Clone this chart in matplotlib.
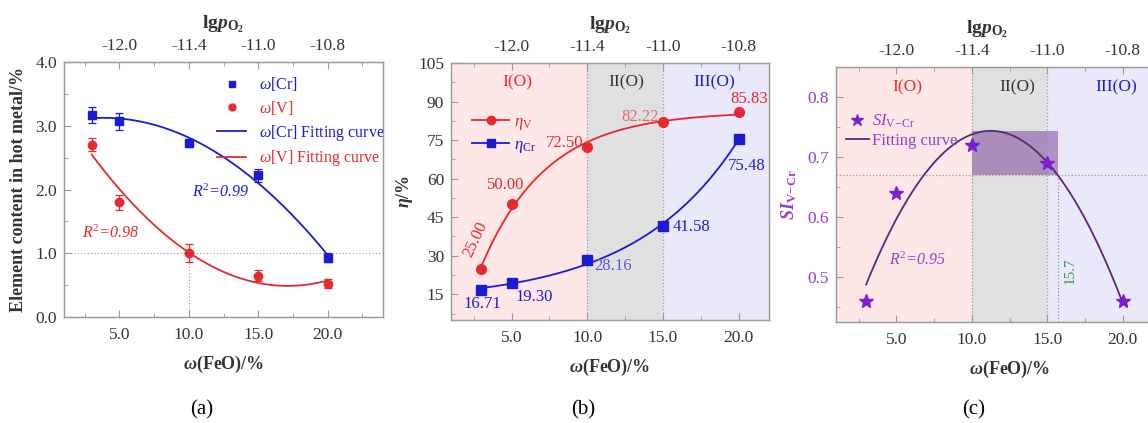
import numpy as np
import matplotlib
matplotlib.use('Agg')
import matplotlib.pyplot as plt
from matplotlib.ticker import MultipleLocator, FixedLocator, FormatStrFormatter
from matplotlib.lines import Line2D
from matplotlib.patches import Rectangle

plt.rcParams['font.family'] = ['Liberation Serif', 'DejaVu Serif']
plt.rcParams['mathtext.fontset'] = 'custom'
plt.rcParams['mathtext.rm'] = 'Liberation Serif'
plt.rcParams['mathtext.it'] = 'Liberation Serif:italic'
plt.rcParams['mathtext.bf'] = 'Liberation Serif:bold'
plt.rcParams['mathtext.bfit'] = 'Liberation Serif:bold:italic'

# ---------------- data ----------------
feo = [3, 5, 10, 15, 20]
top_ticks_x = [5, 10, 15, 20]
top_tick_labels = ['-12.0', '-11.4', '-11.0', '-10.8']

cr = [3.17, 3.07, 2.73, 2.22, 0.93]
cr_err = [0.13, 0.13, 0.06, 0.10, 0.07]
v = [2.70, 1.80, 1.00, 0.65, 0.52]
v_err = [0.10, 0.12, 0.14, 0.09, 0.07]

eta_v = [25.00, 50.00, 72.50, 82.22, 85.83]
eta_cr = [16.71, 19.30, 28.16, 41.58, 75.48]
eta_v_labels = ['25.00', '50.00', '72.50', '82.22', '85.83']
eta_cr_labels = ['16.71', '19.30', '28.16', '41.58', '75.48']

si = [0.46, 0.64, 0.72, 0.69, 0.46]
region_edges = [10, 15]
region_names = ['I(O)', 'II(O)', 'III(O)']
si_threshold = 0.67
feo_threshold = 15.7

RED = '#e8282e'
BLUE = '#1b1bd6'
PURPLE = '#7b1fd0'
PURPLE_LINE = '#5a2a78'
PURPLE_TXT = '#9a3fc8'
GRAY_TXT = '#333333'
SPINE = '#9a9a9a'
PINK_BG = '#fde7e7'
GRAY_BG = '#e0e0e0'
LAV_BG = '#e9e9fb'

W, H = 1148, 423
fig = plt.figure(figsize=(W / 100, H / 100), dpi=100)


def ax_at(l, r, t, b):
    return fig.add_axes([l / W, 1 - b / H, (r - l) / W, (b - t) / H])


def style(ax, xlim, ycolor=GRAY_TXT, toplabel_x=0.5):
    ax.set_xlim(*xlim)
    for s in ax.spines.values():
        s.set_color(SPINE)
        s.set_linewidth(1.0)
    ax.xaxis.set_major_locator(FixedLocator([5, 10, 15, 20]))
    ax.xaxis.set_minor_locator(FixedLocator([2.5, 7.5, 12.5, 17.5, 22.5]))
    ax.set_xticklabels(['5.0', '10.0', '15.0', '20.0'])
    ax.tick_params(which='both', direction='in', color=SPINE, labelsize=12.5,
                   labelcolor=GRAY_TXT, top=False, right=False)
    ax.tick_params(axis='x', pad=7)
    ax.tick_params(axis='y', labelcolor=ycolor, pad=5)
    ax.tick_params(which='major', length=5)
    ax.tick_params(which='minor', length=3)
    ax.set_xlabel(r'$\mathbfit{\omega}$(FeO)/%', fontsize=13, fontweight='bold',
                  color=GRAY_TXT, labelpad=8)
    top = ax.twiny()
    top.set_xlim(*xlim)
    top.xaxis.set_major_locator(FixedLocator(top_ticks_x))
    top.xaxis.set_minor_locator(FixedLocator([2.5, 7.5, 12.5, 17.5, 22.5]))
    top.set_xticklabels(top_tick_labels)
    top.tick_params(which='both', direction='in', color=SPINE, labelsize=12.5,
                    labelcolor=GRAY_TXT, pad=6)
    top.tick_params(which='major', length=5)
    top.tick_params(which='minor', length=3)
    for s in top.spines.values():
        s.set_color(SPINE)
    top.set_xlabel(r'lg$\mathbfit{p}_{\mathbf{O}_{\mathbf{2}}}$', fontsize=14,
                   fontweight='bold', color=GRAY_TXT, labelpad=4)
    top.xaxis.set_label_coords(toplabel_x, 1.13)
    return top


xs = np.linspace(feo[0], feo[-1], 200)

# ---------------- panel (a) ----------------
axa = ax_at(64, 383, 62, 317)
axa.set_ylim(0, 4.0)
axa.yaxis.set_major_locator(MultipleLocator(1.0))
axa.yaxis.set_minor_locator(MultipleLocator(0.5))
axa.yaxis.set_major_formatter(FormatStrFormatter('%.1f'))
style(axa, (1, 24))
axa.set_ylabel('Element content in hot metal/%', fontsize=13, fontweight='bold',
               color=GRAY_TXT, labelpad=6)

axa.axhline(1.0, color='#a0a0a0', ls=':', lw=0.9)
axa.plot([10, 10], [0, 1.0], color='#a0a0a0', ls=':', lw=0.9)

pc = np.polyfit(feo, cr, 2)
pv = np.polyfit(feo, v, 2)
axa.plot(xs, np.polyval(pc, xs), color=BLUE, lw=1.3)
axa.plot(xs, np.polyval(pv, xs), color=RED, lw=1.3)
axa.errorbar(feo, cr, yerr=cr_err, fmt='s', color=BLUE, ms=6, capsize=3,
             elinewidth=0.9, capthick=0.9)
axa.errorbar(feo, v, yerr=v_err, fmt='o', color=RED, ms=6, capsize=3,
             elinewidth=0.9, capthick=0.9)
axa.text(12.3, 1.95, r'$R^2$=0.99', color=BLUE, fontsize=11.5, ha='center',
         va='center', style='italic')
axa.text(4.4, 1.31, r'$R^2$=0.98', color=RED, fontsize=11.5, ha='center',
         va='center', style='italic')
ha = [Line2D([], [], ls='none', marker='s', color=BLUE, ms=5),
      Line2D([], [], ls='none', marker='o', color=RED, ms=5),
      Line2D([], [], color=BLUE, lw=1.3),
      Line2D([], [], color=RED, lw=1.3)]
la = [r'$\omega$[Cr]', r'$\omega$[V]', r'$\omega$[Cr] Fitting curve',
      r'$\omega$[V] Fitting curve']
lg = axa.legend(ha, la, loc='upper left', bbox_to_anchor=(0.45, 0.985),
                frameon=False, fontsize=11.5, handlelength=1.8, labelspacing=0.35,
                handletextpad=0.8, borderaxespad=0.2)
for t, c in zip(lg.get_texts(), [BLUE, RED, BLUE, RED]):
    t.set_color(c)

# ---------------- panel (b) ----------------
axb = ax_at(451, 769, 63, 320)
axb.set_ylim(5, 105)
axb.yaxis.set_major_locator(FixedLocator([15, 30, 45, 60, 75, 90, 105]))
axb.yaxis.set_minor_locator(FixedLocator([7.5, 22.5, 37.5, 52.5, 67.5, 82.5, 97.5]))
style(axb, (1, 22))
axb.set_ylabel(r'$\mathbfit{\eta}$/%', fontsize=13, fontweight='bold',
               color=GRAY_TXT, labelpad=2)
axb.axvspan(1, region_edges[0], color=PINK_BG, lw=0, zorder=0)
axb.axvspan(region_edges[0], region_edges[1], color=GRAY_BG, lw=0, zorder=0)
axb.axvspan(region_edges[1], 22, color=LAV_BG, lw=0, zorder=0)
for e in region_edges:
    axb.axvline(e, color='#9a9a9a', ls=':', lw=0.9)
for name, xc, c in zip(region_names, [5.4, 12.6, 18.4], [RED, '#333333', BLUE]):
    axb.text(xc, 97.5, name, color=c, fontsize=12.5, ha='center', va='center')


def fit_sat(x, y):
    x = np.asarray(x, float)
    y = np.asarray(y, float)
    best = None
    for tau in np.linspace(1, 40, 2000):
        for sgn in (1, -1):
            g = np.exp(sgn * x / tau)
            A = np.vstack([np.ones_like(x), g]).T
            coef, *_ = np.linalg.lstsq(A, y, rcond=None)
            err = np.sum((A @ coef - y) ** 2)
            if best is None or err < best[0]:
                best = (err, tau, sgn, coef)
    _, tau, sgn, coef = best
    return lambda t: coef[0] + coef[1] * np.exp(sgn * t / tau)


fv = fit_sat(feo, eta_v)
fc = fit_sat(feo, eta_cr)
axb.plot(xs, fv(xs), color=RED, lw=1.3)
axb.plot(xs, fc(xs), color=BLUE, lw=1.3)
axb.plot(feo, eta_v, 'o', color=RED, ms=7)
axb.plot(feo, eta_cr, 's', color=BLUE, ms=6.5)

v_pos = [(2.6, 36.3, 65), (4.6, 57.4, 0), (8.5, 73.9, 0), (13.5, 84.0, 0), (20.7, 91.0, 0)]
v_cols = [RED, RED, RED, '#e66a6a', RED]
for lab, (xp, yp, rot), c in zip(eta_v_labels, v_pos, v_cols):
    axb.text(xp, yp, lab, color=c, fontsize=12, ha='center', va='center', rotation=rot)
c_pos = [(3.05, 11.3), (6.5, 13.8), (11.7, 26.0), (16.9, 41.1), (20.5, 64.8)]
c_cols = [BLUE, BLUE, '#5a5ad8', BLUE, BLUE]
for lab, (xp, yp), c in zip(eta_cr_labels, c_pos, c_cols):
    axb.text(xp, yp, lab, color=c, fontsize=12, ha='center', va='center')

hb = [Line2D([], [], color=RED, marker='o', ms=6, lw=1.3),
      Line2D([], [], color=BLUE, marker='s', ms=5.5, lw=1.3)]
lgb = axb.legend(hb, [r'$\eta_{\rm V}$', r'$\eta_{\rm Cr}$'], loc='upper left',
                 bbox_to_anchor=(0.02, 0.86), frameon=False, fontsize=12,
                 handlelength=2.2, labelspacing=0.3, handletextpad=0.3)
for t, c in zip(lgb.get_texts(), [RED, BLUE]):
    t.set_color(c)

# ---------------- panel (c) ----------------
axc = ax_at(836, 1183, 67, 322)
axc.set_ylim(0.425, 0.85)
axc.yaxis.set_major_locator(MultipleLocator(0.1))
axc.yaxis.set_minor_locator(MultipleLocator(0.05))
axc.yaxis.set_major_formatter(FormatStrFormatter('%.1f'))
style(axc, (1, 24), ycolor=PURPLE_TXT, toplabel_x=0.435)
axc.set_ylabel(r'$\mathbfit{SI}_{\mathbf{V\!-\!Cr}}$', fontsize=13, color=PURPLE_TXT,
               labelpad=6)
axc.axvspan(1, region_edges[0], color=PINK_BG, lw=0, zorder=0)
axc.axvspan(region_edges[0], region_edges[1], color=GRAY_BG, lw=0, zorder=0)
axc.axvspan(region_edges[1], 24, color=LAV_BG, lw=0, zorder=0)
for e in region_edges:
    axc.axvline(e, color='#9a9a9a', ls=':', lw=0.9)
for name, xc, c in zip(region_names, [5.7, 13.0, 19.6], [RED, '#333333', BLUE]):
    axc.text(xc, 0.816, name, color=c, fontsize=12.5, ha='center', va='center')

ps = np.polyfit(feo, si, 2)
xpk = -ps[1] / (2 * ps[0])
ypk = np.polyval(ps, xpk)
axc.add_patch(Rectangle((region_edges[0], si_threshold), feo_threshold - region_edges[0],
                        ypk - si_threshold, facecolor='#7e4a9e', alpha=0.55, lw=0,
                        zorder=1))
axc.axhline(si_threshold, color='#9a9a9a', ls=':', lw=0.9)
axc.plot([feo_threshold, feo_threshold], [0.425, si_threshold], color='#8a8aaa',
         ls=':', lw=0.9)
axc.plot(xs, np.polyval(ps, xs), color=PURPLE_LINE, lw=1.3, zorder=3)
axc.plot(feo, si, '*', color=PURPLE, ms=10, zorder=4)
axc.text(6.4, 0.528, r'$R^2$=0.95', color=PURPLE_TXT, fontsize=11.5, ha='center',
         va='center', style='italic')
axc.text(16.5, 0.511, '15.7', color='#3a9a4a', fontsize=11, ha='center',
         va='center', rotation=90)
hc = [Line2D([], [], ls='none', marker='*', color=PURPLE, ms=9),
      Line2D([], [], color=PURPLE_LINE, lw=1.3)]
lgc = axc.legend(hc, [r'$SI_{\rm V\!-\!Cr}$', 'Fitting curve'], loc='upper left',
                 bbox_to_anchor=(-0.015, 0.88), frameon=False, fontsize=12,
                 handlelength=1.4, labelspacing=0.2, handletextpad=0.2)
for t in lgc.get_texts():
    t.set_color(PURPLE_TXT)

# panel labels
fig.text(202 / W, 1 - 410 / H, '(a)', fontsize=15, ha='center', va='center')
fig.text(583 / W, 1 - 410 / H, '(b)', fontsize=15, ha='center', va='center')
fig.text(974 / W, 1 - 410 / H, '(c)', fontsize=15, ha='center', va='center')

fig.savefig('out.png', dpi=100)
